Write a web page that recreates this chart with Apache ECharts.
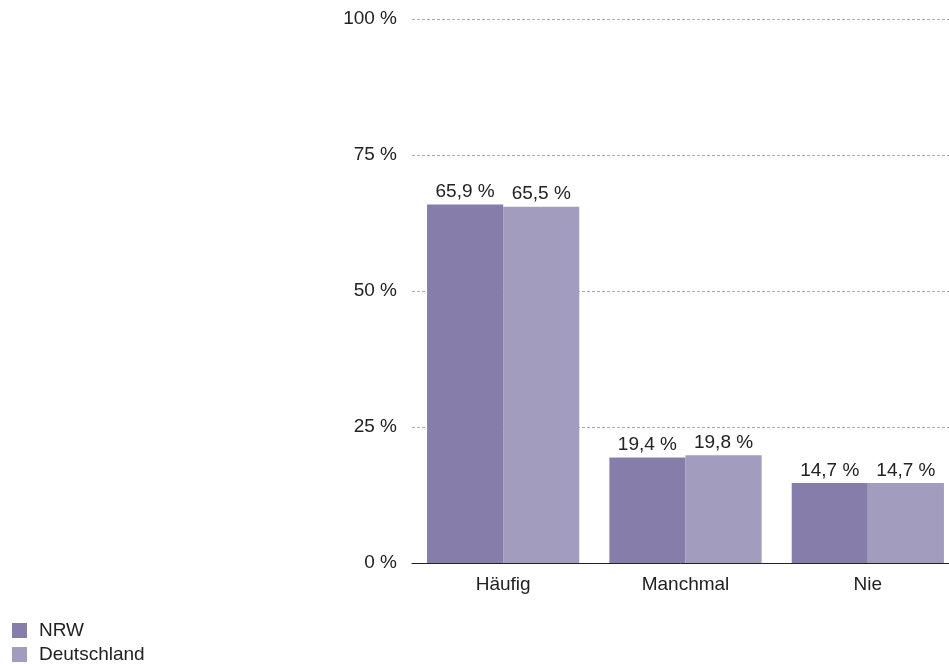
<!DOCTYPE html>
<html>
<head>
<meta charset="utf-8">
<script src="https://cdn.jsdelivr.net/npm/echarts@6/dist/echarts.min.js"></script>
<style>
  html, body { margin: 0; padding: 0; background: #fff; }
  #chart { width: 949px; height: 664px; }
</style>
</head>
<body>
<div id="chart"></div>
<script>
// data
const categories = ['Häufig', 'Manchmal', 'Nie'];
const nrw = [65.9, 19.4, 14.7];
const deutschland = [65.5, 19.8, 14.7];

const FONT = 'Liberation Sans';
const fmt = v => v.toFixed(1).replace('.', ',') + ' %';
const labelStyle = {
    show: true,
    position: 'top',
    distance: 3,
    color: '#222',
    fontSize: 19,
    fontFamily: FONT,
    formatter: p => fmt(p.value)
};

const chart = echarts.init(document.getElementById('chart'));
chart.setOption({
    animation: false,
    textStyle: { fontFamily: FONT },
    // plot runs past the right edge of the canvas, as in the reference
    grid: {
        left: 412, width: 547, top: 19, bottom: 101,
        containLabel: false,
        outerBoundsMode: 'none'
    },
    legend: {
        orient: 'vertical',
        left: 12,
        top: 621,
        height: 60,
        padding: 0,
        icon: 'rect',
        itemWidth: 15,
        itemHeight: 15,
        itemGap: 5,
        textStyle: { fontSize: 19, lineHeight: 14, color: '#222', fontFamily: FONT, padding: [0, 0, 0, 7] },
        data: ['NRW', 'Deutschland']
    },
    xAxis: {
        type: 'category',
        data: categories,
        axisLine: { lineStyle: { color: '#222', width: 1 } },
        axisTick: { show: false },
        axisLabel: { color: '#222', fontSize: 19, margin: 12 }
    },
    yAxis: {
        type: 'value',
        min: 0,
        max: 100,
        interval: 25,
        axisLine: { show: false },
        axisTick: { show: false },
        axisLabel: { color: '#222', fontSize: 19, margin: 15, formatter: v => v + ' %' },
        splitLine: { lineStyle: { color: '#aaa', type: [3, 2], width: 1 } }
    },
    series: [
        {
            name: 'NRW',
            type: 'bar',
            data: nrw,
            barGap: '0%',
            barCategoryGap: '16.5%',
            itemStyle: { color: '#877dab' },
            label: labelStyle
        },
        {
            name: 'Deutschland',
            type: 'bar',
            data: deutschland,
            itemStyle: { color: '#a29cbf' },
            label: labelStyle
        }
    ]
});
</script>
</body>
</html>
